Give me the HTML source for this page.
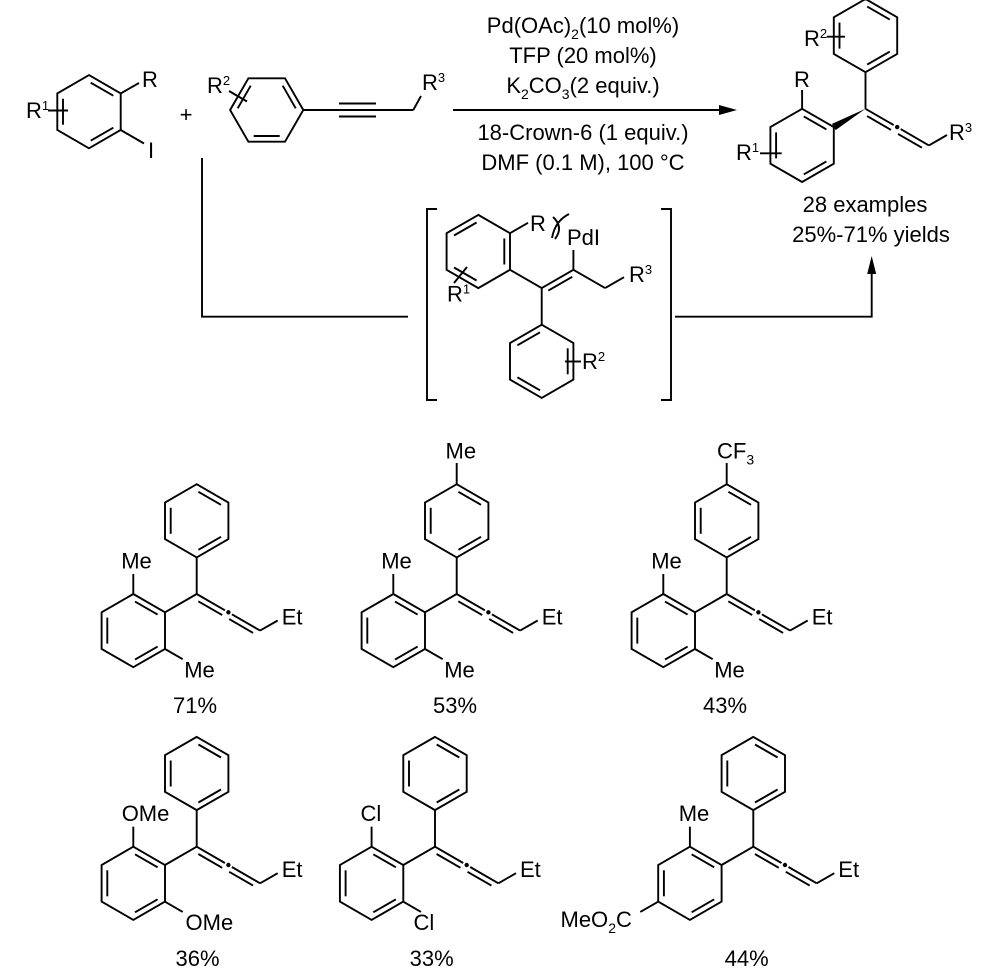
<!DOCTYPE html>
<html><head><meta charset="utf-8"><style>
html,body{margin:0;padding:0;background:#fff;}
svg{display:block;}
text{font-family:"Liberation Sans",Arial,sans-serif;fill:#000;}
</style></head><body>
<svg width="1000" height="975" viewBox="0 0 1000 975" xmlns="http://www.w3.org/2000/svg" xmlns:xlink="http://www.w3.org/1999/xlink">
<defs>
<g id="ring" fill="none" stroke="#000" stroke-width="1.9">
<polygon points="0,-36.6 31.7,-18.3 31.7,18.3 0,36.6 -31.7,18.3 -31.7,-18.3"/>
<line x1="1.7" y1="-29" x2="24.3" y2="-16"/>
<line x1="-26" y1="-13" x2="-26" y2="13"/>
<line x1="24.3" y1="16" x2="1.7" y2="29"/>
</g>
<g id="core" fill="none" stroke="#000" stroke-width="1.9">
<use href="#ring" xlink:href="#ring" transform="translate(0,-73.2)"/>
<line x1="0" y1="-36.6" x2="0" y2="0"/>
<use href="#ring" xlink:href="#ring" transform="translate(-63.4,36.6)"/>
<line x1="0" y1="0" x2="28.2" y2="16.3"/>
<line x1="1.6" y1="7.3" x2="25.5" y2="21.1"/>
<line x1="35.2" y1="20.3" x2="63.4" y2="36.6"/>
<line x1="32.5" y1="25.1" x2="56.4" y2="38.9"/>
<circle cx="31.7" cy="18.3" r="2.2" fill="#000" stroke="none"/>
</g>
<g id="cmp" fill="none" stroke="#000" stroke-width="1.9">
<use href="#core" xlink:href="#core"/>
<line x1="0" y1="0" x2="-31.7" y2="18.3"/>
<line x1="63.4" y1="36.6" x2="81" y2="26.5"/>
<line x1="-63.4" y1="0" x2="-63.4" y2="-20"/>
</g>
<g id="cmp2" fill="none" stroke="#000" stroke-width="1.9">
<use href="#cmp" xlink:href="#cmp"/>
<line x1="-31.7" y1="55" x2="-14" y2="65.2"/>
</g>
</defs>

<!-- ===== Reactant 1 ===== -->
<g fill="none" stroke="#000" stroke-width="1.9">
<use href="#ring" xlink:href="#ring" transform="translate(89,111.7)"/>
<line x1="120.7" y1="93.4" x2="139" y2="83"/>
<line x1="120.7" y1="130" x2="144" y2="143.5"/>
<line x1="48" y1="110.5" x2="68" y2="110.5"/>
<!-- Reactant 2 -->
<use href="#ring" xlink:href="#ring" transform="translate(266.7,110) rotate(-90)"/>
<line x1="229" y1="91" x2="247" y2="101.5"/>
<line x1="303.3" y1="110" x2="413.3" y2="110"/>
<line x1="339" y1="103.5" x2="376" y2="103.5"/>
<line x1="339" y1="116.5" x2="376" y2="116.5"/>
<line x1="413.3" y1="110" x2="421" y2="96"/>
<!-- main arrow -->
<line x1="453" y1="110" x2="722" y2="110"/>
<!-- connectors -->
<polyline points="202,158 202,316.7 408,316.7"/>
<polyline points="437,209 427,209 427,400 437,400"/>
<polyline points="661,209 671,209 671,400 661,400"/>
<polyline points="675,316.7 871.7,316.7 871.7,272"/>
<!-- intermediate -->
<use href="#ring" xlink:href="#ring" transform="translate(478.3,251.5) scale(-1,1)"/>
<use href="#ring" xlink:href="#ring" transform="translate(541.7,361.3) scale(-1,1)"/>
<line x1="510" y1="233.2" x2="528" y2="222.8"/>
<line x1="510" y1="269.8" x2="541.7" y2="288.1"/>
<line x1="541.7" y1="288.1" x2="573.4" y2="269.8"/>
<line x1="548.35" y1="290.6" x2="572.25" y2="276.8"/>
<line x1="573.4" y1="269.8" x2="573.4" y2="250"/>
<line x1="573.4" y1="269.8" x2="605.1" y2="288.1"/>
<line x1="605.1" y1="288.1" x2="624" y2="277.2"/>
<line x1="541.7" y1="288.1" x2="541.7" y2="324.7"/>
<line x1="565" y1="361.5" x2="581" y2="361.5"/>
<line x1="454" y1="283" x2="467" y2="267"/>
<path d="M553,217 Q564,227 555,239"/>
<path d="M569,214 Q555,221 552,238"/>
<!-- product -->
<use href="#core" xlink:href="#core" transform="translate(865.5,108.8)"/>
<line x1="928.9" y1="145.4" x2="947" y2="135"/>
<line x1="802.1" y1="108.8" x2="802.1" y2="90"/>
<line x1="760" y1="153.3" x2="781.7" y2="153.3"/>
<line x1="826.7" y1="36.7" x2="845" y2="36.7"/>
<!-- bottom compounds -->
<use href="#cmp2" xlink:href="#cmp2" transform="translate(196.7,594)"/>
<use href="#cmp2" xlink:href="#cmp2" transform="translate(456.7,594)"/>
<line x1="456.7" y1="484.2" x2="456.7" y2="463"/>
<use href="#cmp2" xlink:href="#cmp2" transform="translate(726.7,594)"/>
<line x1="726.7" y1="484.2" x2="726.7" y2="463"/>
<use href="#cmp2" xlink:href="#cmp2" transform="translate(196.7,846.7)"/>
<use href="#cmp2" xlink:href="#cmp2" transform="translate(435,846.7)"/>
<use href="#cmp" xlink:href="#cmp" transform="translate(753.3,846.7)"/>
<line x1="658.2" y1="901.7" x2="640.3" y2="911.9"/>
</g>
<!-- filled shapes -->
<g fill="#000" stroke="none">
<polygon points="737,110 719,105 719,115"/>
<polygon points="871.7,256 867.2,274 876.2,274"/>
<polygon points="865.5,108.8 835.6,130.1 832,123.9"/>
</g>

<!-- ===== Text ===== -->
<g font-size="22">
<text x="26" y="118">R<tspan font-size="13" dy="-8">1</tspan></text>
<text x="142" y="87">R</text>
<text x="148" y="158">I</text>
<text x="186" y="122" text-anchor="middle">+</text>
<text x="207" y="93">R<tspan font-size="13" dy="-8">2</tspan></text>
<text x="422" y="90">R<tspan font-size="13" dy="-8">3</tspan></text>

<text x="583" y="33" text-anchor="middle">Pd(OAc)<tspan font-size="14" dy="6">2</tspan><tspan dy="-6">(10 mol%)</tspan></text>
<text x="583" y="63" text-anchor="middle">TFP (20 mol%)</text>
<text x="583" y="93" text-anchor="middle">K<tspan font-size="14" dy="6">2</tspan><tspan dy="-6">CO</tspan><tspan font-size="14" dy="6">3</tspan><tspan dy="-6">(2 equiv.)</tspan></text>
<text x="583" y="140" text-anchor="middle">18-Crown-6 (1 equiv.)</text>
<text x="583" y="170" text-anchor="middle">DMF (0.1 M), 100 °C</text>

<text x="804" y="46">R<tspan font-size="13" dy="-8">2</tspan></text>
<text x="794" y="87">R</text>
<text x="736" y="160">R<tspan font-size="13" dy="-8">1</tspan></text>
<text x="949" y="140">R<tspan font-size="13" dy="-8">3</tspan></text>
<text x="865" y="212" text-anchor="middle">28 examples</text>
<text x="871" y="242" text-anchor="middle">25%-71% yields</text>

<text x="530" y="231">R</text>
<text x="567" y="245">PdI</text>
<text x="629" y="282">R<tspan font-size="13" dy="-8">3</tspan></text>
<text x="447" y="301.5">R<tspan font-size="13" dy="-8">1</tspan></text>
<text x="582" y="369">R<tspan font-size="13" dy="-8">2</tspan></text>

<!-- compound 1 -->
<text x="121.2" y="568.5">Me</text>
<text x="184.2" y="677.5">Me</text>
<text x="281.7" y="624.5">Et</text>
<text x="195" y="713" text-anchor="middle">71%</text>
<!-- compound 2 -->
<text x="445.5" y="458.3">Me</text>
<text x="381.2" y="568.5">Me</text>
<text x="444.2" y="677.5">Me</text>
<text x="541.7" y="624.5">Et</text>
<text x="455" y="713" text-anchor="middle">53%</text>
<!-- compound 3 -->
<text x="717" y="458.3">CF<tspan font-size="14" dy="6">3</tspan></text>
<text x="651.2" y="568.5">Me</text>
<text x="714.2" y="677.5">Me</text>
<text x="811.7" y="624.5">Et</text>
<text x="725" y="713" text-anchor="middle">43%</text>
<!-- compound 4 -->
<text x="121.7" y="821.2">OMe</text>
<text x="185.5" y="930.2">OMe</text>
<text x="281.7" y="877.2">Et</text>
<text x="197.5" y="966" text-anchor="middle">36%</text>
<!-- compound 5 -->
<text x="360.5" y="821">Cl</text>
<text x="413.5" y="930.2">Cl</text>
<text x="520" y="877.2">Et</text>
<text x="431.7" y="966" text-anchor="middle">33%</text>
<!-- compound 6 -->
<text x="678.7" y="821.2">Me</text>
<text x="560.5" y="927">MeO<tspan font-size="14" dy="6">2</tspan><tspan dy="-6">C</tspan></text>
<text x="838.3" y="877.2">Et</text>
<text x="746.7" y="966" text-anchor="middle">44%</text>
</g>
</svg>
</body></html>
